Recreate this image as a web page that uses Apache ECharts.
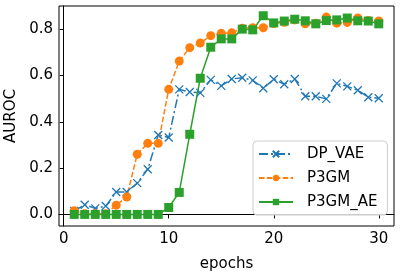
<!DOCTYPE html>
<html><head><meta charset="utf-8">
<script src="https://cdn.jsdelivr.net/npm/echarts@6/dist/echarts.min.js"></script>
<style>html,body{margin:0;padding:0;background:#fff}#c{width:400px;height:272px}</style>
</head><body><div id="c"></div>
<script>
const epochs = [1,2,3,4,5,6,7,8,9,10,11,12,13,14,15,16,17,18,19,20,21,22,23,24,25,26,27,28,29,30];
const dpVae = [0.015,0.042,0.026,0.036,0.097,0.097,0.135,0.195,0.343,0.332,0.54,0.529,0.525,0.581,0.555,0.585,0.59,0.579,0.545,0.584,0.562,0.585,0.51,0.51,0.499,0.566,0.553,0.536,0.506,0.502];
const p3gm = [0.016,0.003,0.003,0.003,0.04,0.075,0.26,0.307,0.307,0.54,0.662,0.72,0.74,0.772,0.782,0.784,0.804,0.806,0.806,0.824,0.83,0.84,0.823,0.826,0.852,0.826,0.829,0.848,0.837,0.835];
const p3gmAe = [0,0,0,0,0,0,0,0,0,0.03,0.095,0.346,0.588,0.722,0.758,0.758,0.8,0.797,0.858,0.827,0.835,0.843,0.836,0.823,0.837,0.84,0.848,0.836,0.835,0.823];
const xTicks = [0,10,20,30];
const yTicks = [0,0.2,0.4,0.6,0.8];

const font = 'DejaVu Sans';
const pair = a => epochs.map((e,i)=>[e,a[i]]);
const chart = echarts.init(document.getElementById('c'), null, {renderer:'canvas'});
chart.setOption({
  animation:false,
  backgroundColor:'#fff',
  grid:{left:59,right:6,top:6,bottom:46,outerBoundsMode:'none',containLabel:false,show:true,borderColor:'#000',borderWidth:1,backgroundColor:'transparent'},
  xAxis:{type:'value',min:-0.45,max:31.45,
    name:'epochs',nameLocation:'middle',nameGap:31,nameTextStyle:{fontFamily:font,fontSize:15,color:'#000'},
    axisLine:{show:true,lineStyle:{color:'#000',width:1}},
    axisTick:{show:true,inside:false,length:4,lineStyle:{color:'#000'},customValues:xTicks},
    axisLabel:{fontFamily:font,fontSize:15,color:'#000',margin:6,customValues:xTicks},
    splitLine:{show:false}},
  yAxis:{type:'value',min:-0.05,max:0.9,
    name:'AUROC',nameLocation:'middle',nameGap:40,nameTextStyle:{fontFamily:font,fontSize:15,color:'#000'},
    axisLine:{show:true,lineStyle:{color:'#000',width:1}},
    axisTick:{show:true,inside:false,length:4,lineStyle:{color:'#000'},customValues:yTicks},
    axisLabel:{fontFamily:font,fontSize:15,color:'#000',margin:6,customValues:yTicks,formatter:v=>v.toFixed(1)},
    splitLine:{show:false}},
  legend:{orient:'vertical',left:253,top:141,
    padding:[4,10,4,5],itemGap:6,itemWidth:34,itemHeight:8,
    borderColor:'#ccc',borderWidth:1,borderRadius:4,backgroundColor:'rgba(255,255,255,0.8)',
    textStyle:{fontFamily:font,fontSize:15,lineHeight:18,color:'#000',padding:[0,0,0,9]},
    data:['DP_VAE','P3GM','P3GM_AE']},
  series:[
    {name:'DP_VAE',type:'line',data:pair(dpVae),symbol:'path://M0,0L10,10M10,0L0,10',symbolSize:8,
      itemStyle:{color:'#1f77b4',borderColor:'#1f77b4',borderWidth:1.3},
      lineStyle:{color:'#1f77b4',width:1.5,type:[9,3,2,3]}},
    {name:'P3GM',type:'line',data:pair(p3gm),symbol:'circle',symbolSize:9,
      itemStyle:{color:'#ff7f0e',borderColor:'#ff7f0e',borderWidth:0},
      lineStyle:{color:'#ff7f0e',width:1.5,type:[5.5,2.4]}},
    {name:'P3GM_AE',type:'line',data:pair(p3gmAe),symbol:'rect',symbolSize:9,
      itemStyle:{color:'#2ca02c',borderColor:'#2ca02c',borderWidth:0},
      lineStyle:{color:'#2ca02c',width:1.5,type:'solid'}}
  ]
});
</script></body></html>
